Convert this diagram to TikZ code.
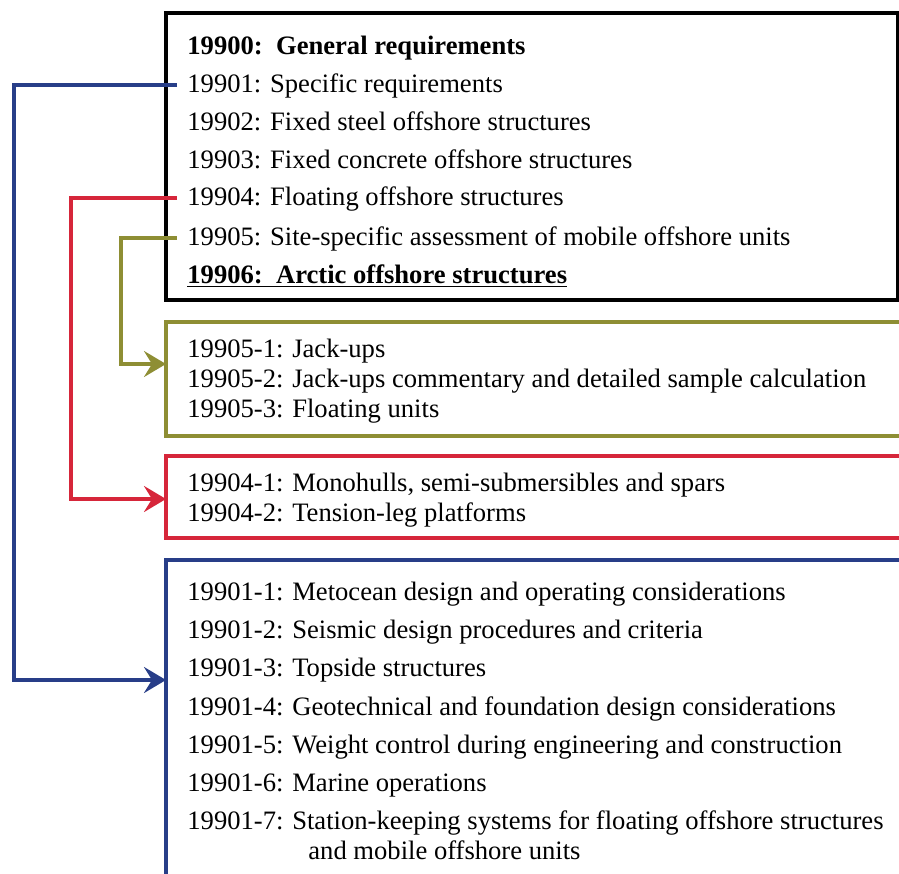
\documentclass[tikz,border=0pt]{standalone}
\usepackage{fontspec}
\setmainfont{Liberation Serif}
\usetikzlibrary{arrows.meta}

\definecolor{isoblue}{RGB}{40,62,136}
\definecolor{isored}{RGB}{214,38,58}
\definecolor{isoolive}{RGB}{142,142,52}

\begin{document}
\begin{tikzpicture}[
 x=0.5pt,y=-0.5pt,
 frame/.style={
  draw,
  line width=1.8pt,
  anchor=north west,
  inner sep=0pt,
  outer sep=0pt
 },
 stdtext/.style={
  anchor=west,
  inner xsep=5pt,
  inner ysep=0pt,
  text height=0.78em,
  text depth=0pt,
  font=\fontsize{13.3}{16}\selectfont
 },
 link/.style={line width=2pt,-{Stealth[length=11pt,width=13pt,inset=4pt]}}
]
 \clip (0,0) rectangle (899,873);

 % boxes
 \node[frame,draw=black,line width=2pt,minimum width=366pt,minimum height=143.5pt]
  (main) at (166,13) {};
 \node[frame,draw=isoolive,minimum width=375pt,minimum height=57pt]
  (sitebox) at (166,322) {};
 \node[frame,draw=isored,minimum width=375pt,minimum height=41pt]
  (floatbox) at (166,456) {};
 \node[frame,draw=isoblue,minimum width=375pt,minimum height=165pt]
  (specbox) at (166,560) {};

 % main list
 \node[stdtext] (gen)    at (177,46.5)  {\textbf{19900:\ \ General requirements}};
 \node[stdtext] (spec)   at (177,85)    {19901: Specific requirements};
 \node[stdtext] (fsteel) at (177,122.9) {19902: Fixed steel offshore structures};
 \node[stdtext] (fconc)  at (177,161.1) {19903: Fixed concrete offshore structures};
 \node[stdtext] (float)  at (177,198)   {19904: Floating offshore structures};
 \node[stdtext] (site)   at (177,237.5) {19905: Site-specific assessment of mobile offshore units};
 \node[stdtext] (arctic) at (177,275.5)
  {\textbf{\underline{19906:\ \ Arctic offshore structures}}};

 % 19905 parts
 \node[stdtext] (ju1) at (177,350) {19905-1: Jack-ups};
 \node[stdtext] (ju2) at (177,380) {19905-2: Jack-ups commentary and detailed sample calculation};
 \node[stdtext] (ju3) at (177,410) {19905-3: Floating units};

 % 19904 parts
 \node[stdtext] (fl1) at (177,484) {19904-1: Monohulls, semi-submersibles and spars};
 \node[stdtext] (fl2) at (177,514) {19904-2: Tension-leg platforms};

 % 19901 parts
 \node[stdtext] (sp1)  at (177,593) {19901-1: Metocean design and operating considerations};
 \node[stdtext] (sp2)  at (177,631) {19901-2: Seismic design procedures and criteria};
 \node[stdtext] (sp3)  at (177,669) {19901-3: Topside structures};
 \node[stdtext] (sp4)  at (177,708) {19901-4: Geotechnical and foundation design considerations};
 \node[stdtext] (sp5)  at (177,746) {19901-5: Weight control during engineering and construction};
 \node[stdtext] (sp6)  at (177,784) {19901-6: Marine operations};
 \node[stdtext] (sp7)  at (177,822) {19901-7: Station-keeping systems for floating offshore structures};
 \node[stdtext] (sp7b) at (298,852) {and mobile offshore units};

 % connectors
 \draw[link,isoblue]  (spec.west)  -- ++(-163,0) |- ([yshift=-60pt]specbox.north west);
 \draw[link,isored]   (float.west) -- ++(-106,0) |- ([yshift=-21.5pt]floatbox.north west);
 \draw[link,isoolive] (site.west)  -- ++(-56,0)  |- ([yshift=-21pt]sitebox.north west);
\end{tikzpicture}
\end{document}
